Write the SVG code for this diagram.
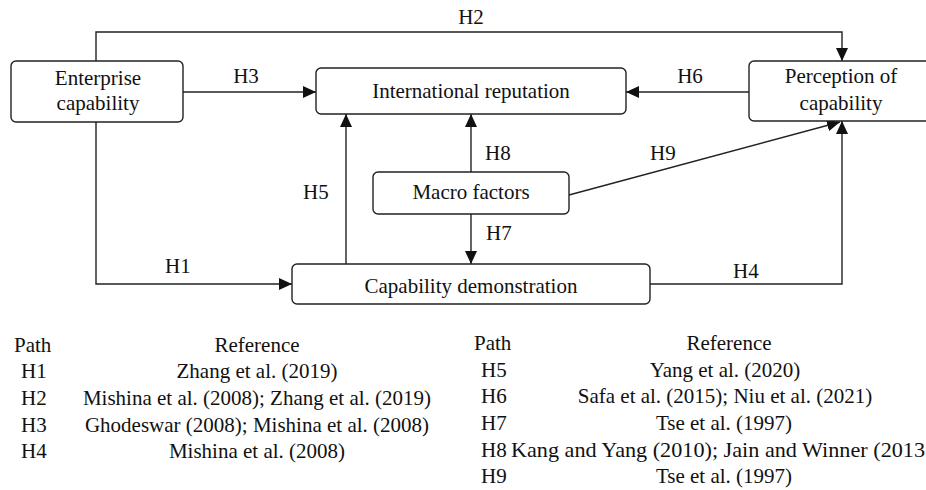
<svg xmlns="http://www.w3.org/2000/svg" width="926" height="490" viewBox="0 0 926 490">
<style>
.box{fill:#fff;stroke:#222;stroke-width:1.4}
.conn path{fill:none;stroke:#222;stroke-width:1.4}
</style>
<defs>
<marker id="ah" markerUnits="userSpaceOnUse" markerWidth="14" markerHeight="12" refX="13" refY="6" orient="auto">
<path d="M0,0 L13,6 L0,12 z" fill="#111"/>
</marker>
</defs>
<rect width="926" height="490" fill="#fff"/>
<g id="connectors" class="conn">
<path d="M96,61 V32 H842 V61" marker-end="url(#ah)"/>
<path d="M183,92 H316" marker-end="url(#ah)"/>
<path d="M749,92 H626" marker-end="url(#ah)"/>
<path d="M471,172 V114" marker-end="url(#ah)"/>
<path d="M471,214 V264" marker-end="url(#ah)"/>
<path d="M346,264 V114" marker-end="url(#ah)"/>
<path d="M96,122 V284 H292" marker-end="url(#ah)"/>
<path d="M650,284 H842 V121" marker-end="url(#ah)"/>
<path d="M569,195 L840,122" marker-end="url(#ah)"/>
</g>
<g id="edge-labels">
<text font-family="Liberation Serif" font-size="21" fill="#111" text-anchor="middle" x="471" y="24">H2</text>
<text font-family="Liberation Serif" font-size="21" fill="#111" text-anchor="middle" x="246" y="83">H3</text>
<text font-family="Liberation Serif" font-size="21" fill="#111" text-anchor="middle" x="690" y="83">H6</text>
<text font-family="Liberation Serif" font-size="21" fill="#111" x="485" y="160">H8</text>
<text font-family="Liberation Serif" font-size="21" fill="#111" x="650" y="160">H9</text>
<text font-family="Liberation Serif" font-size="21" fill="#111" x="303" y="199">H5</text>
<text font-family="Liberation Serif" font-size="21" fill="#111" x="486" y="240">H7</text>
<text font-family="Liberation Serif" font-size="21" fill="#111" x="165" y="273">H1</text>
<text font-family="Liberation Serif" font-size="21" fill="#111" x="733" y="278">H4</text>
</g>
<g id="enterprise">
<rect class="box" x="11" y="61" width="172" height="61" rx="5"/>
<text font-family="Liberation Serif" font-size="21" fill="#111" text-anchor="middle" x="98" y="85">Enterprise</text>
<text font-family="Liberation Serif" font-size="21" fill="#111" text-anchor="middle" x="98" y="110">capability</text>
</g>
<g id="reputation">
<rect class="box" x="316" y="68" width="310" height="46" rx="5"/>
<text font-family="Liberation Serif" font-size="21" fill="#111" text-anchor="middle" x="471" y="98">International reputation</text>
</g>
<g id="perception">
<rect class="box" x="749" y="61" width="200" height="60" rx="5"/>
<text font-family="Liberation Serif" font-size="21" fill="#111" text-anchor="middle" x="841" y="83">Perception of</text>
<text font-family="Liberation Serif" font-size="21" fill="#111" text-anchor="middle" x="841" y="110">capability</text>
</g>
<g id="macro">
<rect class="box" x="373" y="172" width="196" height="42" rx="5"/>
<text font-family="Liberation Serif" font-size="21" fill="#111" text-anchor="middle" x="471" y="199">Macro factors</text>
</g>
<g id="demonstration">
<rect class="box" x="292" y="264" width="358" height="40" rx="5"/>
<text font-family="Liberation Serif" font-size="21" fill="#111" text-anchor="middle" x="471" y="293">Capability demonstration</text>
</g>
<g id="table-left">
<text font-family="Liberation Serif" font-size="21" fill="#111" x="14" y="352">Path</text>
<text font-family="Liberation Serif" font-size="21" fill="#111" text-anchor="middle" x="257" y="352">Reference</text>
<text font-family="Liberation Serif" font-size="21" fill="#111" x="21" y="378">H1</text>
<text font-family="Liberation Serif" font-size="21" fill="#111" text-anchor="middle" x="257" y="378">Zhang et al. (2019)</text>
<text font-family="Liberation Serif" font-size="21" fill="#111" x="21" y="405">H2</text>
<text font-family="Liberation Serif" font-size="21" fill="#111" text-anchor="middle" x="257" y="405">Mishina et al. (2008); Zhang et al. (2019)</text>
<text font-family="Liberation Serif" font-size="21" fill="#111" x="21" y="432">H3</text>
<text font-family="Liberation Serif" font-size="21" fill="#111" text-anchor="middle" x="257" y="432">Ghodeswar (2008); Mishina et al. (2008)</text>
<text font-family="Liberation Serif" font-size="21" fill="#111" x="21" y="458">H4</text>
<text font-family="Liberation Serif" font-size="21" fill="#111" text-anchor="middle" x="257" y="458">Mishina et al. (2008)</text>
</g>
<g id="table-right">
<text font-family="Liberation Serif" font-size="21" fill="#111" x="474" y="350">Path</text>
<text font-family="Liberation Serif" font-size="21" fill="#111" text-anchor="middle" x="729" y="350">Reference</text>
<text font-family="Liberation Serif" font-size="21" fill="#111" x="481" y="377">H5</text>
<text font-family="Liberation Serif" font-size="21" fill="#111" text-anchor="middle" x="725" y="377">Yang et al. (2020)</text>
<text font-family="Liberation Serif" font-size="21" fill="#111" x="481" y="403">H6</text>
<text font-family="Liberation Serif" font-size="21" fill="#111" text-anchor="middle" x="725" y="403">Safa et al. (2015); Niu et al. (2021)</text>
<text font-family="Liberation Serif" font-size="21" fill="#111" x="481" y="430">H7</text>
<text font-family="Liberation Serif" font-size="21" fill="#111" text-anchor="middle" x="724" y="430">Tse et al. (1997)</text>
<text font-family="Liberation Serif" font-size="21" fill="#111" x="481" y="457">H8</text>
<text font-family="Liberation Serif" font-size="21" fill="#111" x="511" y="457" textLength="414" lengthAdjust="spacingAndGlyphs">Kang and Yang (2010); Jain and Winner (2013</text>
<text font-family="Liberation Serif" font-size="21" fill="#111" x="481" y="483">H9</text>
<text font-family="Liberation Serif" font-size="21" fill="#111" text-anchor="middle" x="724" y="483">Tse et al. (1997)</text>
</g>
</svg>
